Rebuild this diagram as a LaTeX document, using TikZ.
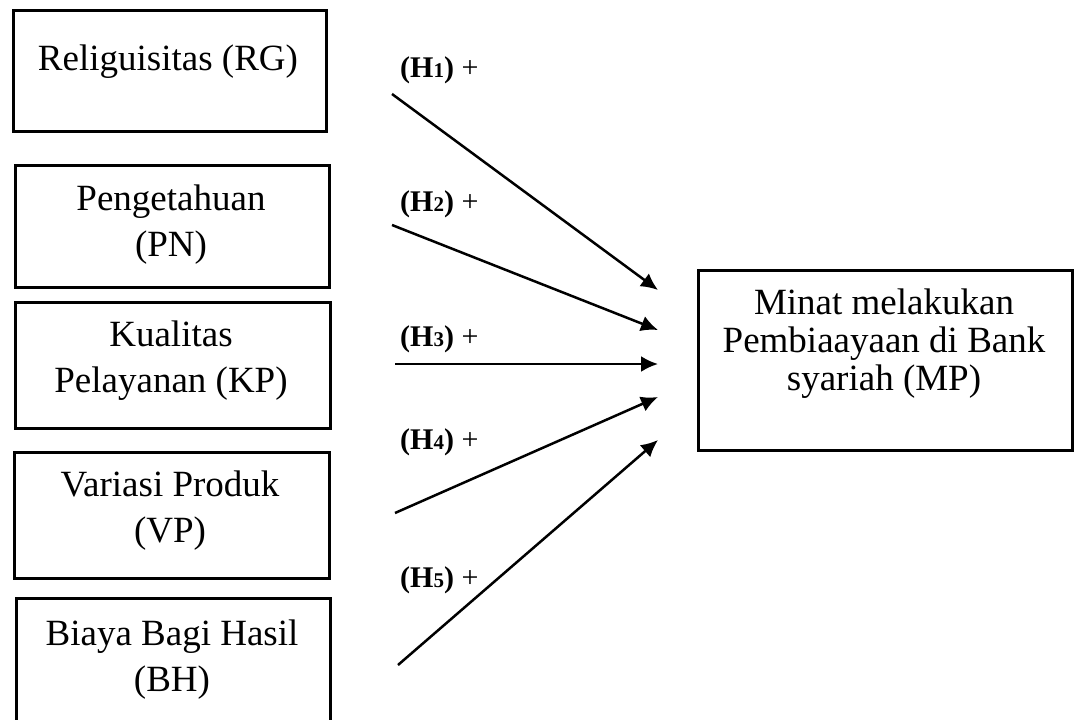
\documentclass[tikz,border=0pt]{standalone}
\usepackage{fontspec}
\setmainfont{Liberation Serif}
\usetikzlibrary{arrows.meta}

\newcommand{\hsub}[1]{{\fontsize{21}{21}\selectfont #1}}

\begin{document}
\begin{tikzpicture}[x=1pt, y=-1pt,
    box/.style={draw, line width=2.5pt, inner sep=0pt, anchor=north west},
    txt/.style={align=center, inner sep=0pt, font=\fontsize{37}{46}\selectfont},
    hyp/.style={anchor=west, inner sep=0pt, font=\fontsize{30}{32}\selectfont\bfseries},
    arr/.style={line width=2.5pt, -{Latex[length=17pt, width=16pt]}}]
      \useasboundingbox (0,0) rectangle (1074,720);
      \clip (0,0) rectangle (1074,720);
      % variable boxes
      \node[box, minimum width=313pt, minimum height=121pt] (rg) at (12, 9) {};
      \node[box, minimum width=314pt, minimum height=122pt] (pn) at (14, 164) {};
      \node[box, minimum width=315pt, minimum height=126pt] (kp) at (14, 301) {};
      \node[box, minimum width=315pt, minimum height=126pt] (vp) at (13, 451) {};
      \node[box, minimum width=314pt, minimum height=150pt] (bh) at (15, 597) {};
      \node[box, minimum width=374pt, minimum height=180pt] (mp) at (697, 269) {};
      \node[txt] (rgtext) at (168, 62) {Religuisitas (RG)};
      \node[txt] (pntext) at (171, 225) {Pengetahuan\\(PN)};
      \node[txt] (kptext) at (171, 361) {Kualitas\\Pelayanan (KP)};
      \node[txt] (vptext) at (170, 511) {Variasi Produk\\(VP)};
      \node[txt] (bhtext) at (172, 660) {Biaya Bagi Hasil\\(BH)};
      \node[txt, font=\fontsize{37}{38}\selectfont] (mptext) at (884, 344) {Minat melakukan\\Pembiaayaan di Bank\\syariah (MP)};
      % hypotheses
      \node[hyp] (h1) at (400, 70) {(H\hsub{1}) \textmd{+}};
      \node[hyp] (h2) at (400, 204) {(H\hsub{2}) \textmd{+}};
      \node[hyp] (h3) at (400, 339) {(H\hsub{3}) \textmd{+}};
      \node[hyp] (h4) at (400, 442) {(H\hsub{4}) \textmd{+}};
      \node[hyp] (h5) at (400, 580) {(H\hsub{5}) \textmd{+}};
      \coordinate (s1) at (392, 94);
      \coordinate (s2) at (392, 225);
      \coordinate (s3) at (395, 364);
      \coordinate (s4) at (395, 513);
      \coordinate (s5) at (398, 665);
      \coordinate (e1) at (658, 290);
      \coordinate (e2) at (658, 330);
      \coordinate (e3) at (658, 364);
      \coordinate (e4) at (658, 397);
      \coordinate (e5) at (658, 440);
      \draw[arr] (s1) -- (e1);
      \draw[arr] (s2) -- (e2);
      \draw[arr] (s3) -- (e3);
      \draw[arr] (s4) -- (e4);
      \draw[arr] (s5) -- (e5);
    \end{tikzpicture}
\end{document}
